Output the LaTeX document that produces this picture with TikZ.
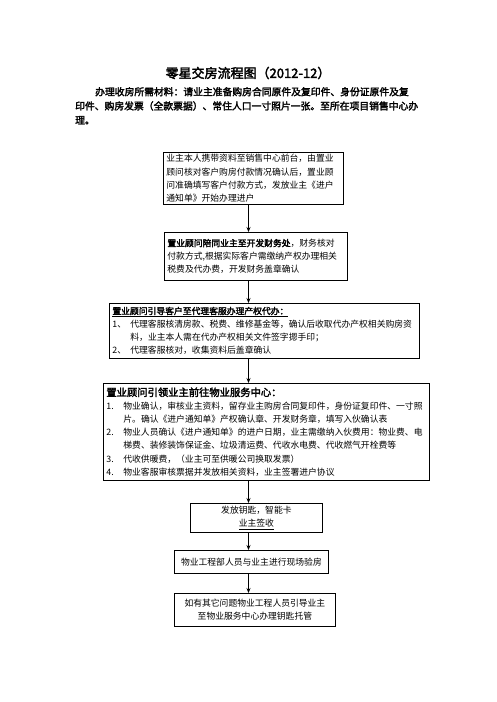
\documentclass[tikz,border=0pt]{standalone}
\usepackage{fontspec}
\setmainfont{Noto Sans CJK SC}[AutoFakeBold=2.5]
\usetikzlibrary{arrows.meta}

\begin{document}
\begin{tikzpicture}[x=1pt,y=-1pt,
  box/.style={draw, line width=0.8pt, anchor=north west, inner xsep=3pt, inner ysep=2pt,
    align=left, font=\fontsize{8.8}{13.2}\selectfont},
  cbox/.style={box, align=center},
  arr/.style={-{Stealth[length=5pt,width=4pt]}, line width=0.8pt}]
  \useasboundingbox (0,0) rectangle (496,702);

  % title and materials
  \node[font=\fontsize{13}{15}\selectfont\bfseries] (title) at (248,73) {零星交房流程图（2012-12）};
  \node[anchor=north west, inner sep=0pt, align=left, text width=352pt,
    font=\fontsize{9.8}{14.2}\selectfont\bfseries] (intro) at (75,87)
    {\hspace*{20pt}办理收房所需材料：请业主准备购房合同原件及复印件、身份证原件及复\\
     印件、购房发票（全款票据）、常住人口一寸照片一张。至所在项目销售中心办\\
     理。};

  % flow boxes
  \node[box, text width=174pt, minimum height=51pt] (b1) at (163,152)
    {业主本人携带资料至销售中心前台，由置业\\
     顾问核对客户购房付款情况确认后，置业顾\\
     问准确填写客户付款方式，发放业主《进户\\
     通知单》开始办理进户};
  \node[box, text width=177pt, minimum height=48pt] (b2) at (164,232)
    {\textbf{置业顾问陪同业主至开发财务处}，财务核对\\
     付款方式,根据实际客户需缴纳产权办理相关\\
     税费及代办费，开发财务盖章确认};
  \node[box, text width=304pt, minimum height=55pt] (b3) at (109,303)
    {\underline{\textbf{置业顾问引导客户至代理客服办理产权代办：}}\\
     \makebox[18pt][l]{1、}代理客服核清房款、税费、维修基金等，确认后收取代办产权相关购房资\\
     \hspace*{18pt}料，业主本人需在代办产权相关文件签字摁手印；\\
     \makebox[18pt][l]{2、}代理客服核对，收集资料后盖章确认};
  \node[box, text width=320pt, minimum height=97pt] (b4) at (103,383)
    {{\fontsize{10.3}{13.2}\selectfont\textbf{置业顾问引领业主前往物业服务中心：}}\\
     \makebox[17pt][l]{1.}物业确认，审核业主资料，留存业主购房合同复印件，身份证复印件、一寸照\\
     \hspace*{17pt}片。确认《进户通知单》产权确认章、开发财务章，填写入伙确认表\\
     \makebox[17pt][l]{2.}物业人员确认《进户通知单》的进户日期，业主需缴纳入伙费用：物业费、电\\
     \hspace*{17pt}梯费、装修装饰保证金、垃圾清运费、代收水电费、代收燃气开栓费等\\
     \makebox[17pt][l]{3.}代收供暖费，（业主可至供暖公司换取发票）\\
     \makebox[17pt][l]{4.}物业客服审核票据并发放相关资料，业主签署进户协议};
  \node[cbox, inner ysep=1pt, text width=126pt, minimum height=29pt] (b5) at (190,503)
    {发放钥匙，智能卡\\ \underline{业主签收}};
  \node[cbox, text width=148pt, minimum height=23pt] (b6) at (174,550)
    {物业工程部人员与业主进行现场验房};
  \node[cbox, text width=155pt, minimum height=33pt] (b7) at (174,593)
    {如有其它问题物业工程人员引导业主\\ 至物业服务中心办理钥匙托管};

  % arrows
  \coordinate (ax) at (248.5,0);
  \draw[arr] (b1.south -| ax) -- (b2.north -| ax);
  \draw[arr] (b2.south -| ax) -- (b3.north -| ax);
  \draw[arr] (b3.south -| ax) -- (b4.north -| ax);
  \draw[arr] (b4.south -| ax) -- (b5.north -| ax);
  \draw[arr] (b5.south -| ax) -- (b6.north -| ax);
  \draw[arr] (b6.south -| ax) -- (b7.north -| ax);
\end{tikzpicture}
\end{document}
